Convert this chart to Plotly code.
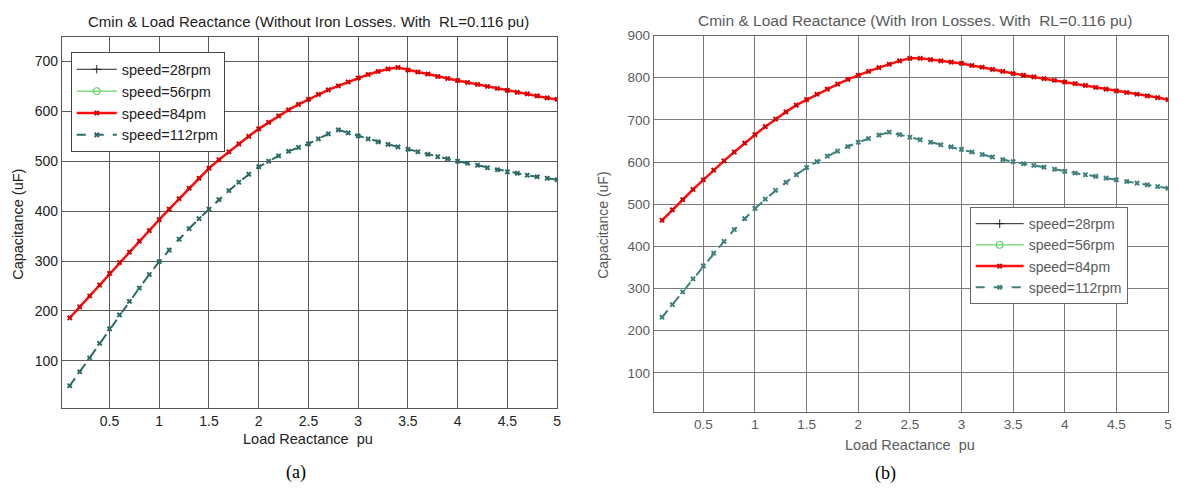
import plotly.graph_objects as go

x_vals = [round(0.1 * i, 1) for i in range(1, 51)]

# (a) Without iron losses
a_84 = [186, 208, 230, 252, 275, 297, 318, 340, 361, 383,
        404, 425, 446, 466, 486, 503, 519, 535, 550, 565,
        578, 591, 603, 614, 624, 634, 643, 651, 659, 667,
        674, 680, 685, 688, 683, 679, 675, 670, 666, 662,
        658, 654, 650, 646, 642, 638, 635, 631, 627, 624]
a_112 = [50, 78, 106, 135, 164, 192, 219, 246, 273, 299,
         322, 344, 365, 385, 404, 423, 441, 458, 474, 489,
         500, 511, 520, 528, 535, 545, 555, 563, 557, 551,
         545, 539, 534, 529, 524, 519, 514, 509, 505, 500,
         496, 492, 487, 483, 479, 476, 472, 469, 466, 463]

# (b) With iron losses
b_84 = [462, 487, 511, 535, 558, 581, 603, 624, 645, 665,
        684, 702, 719, 735, 748, 761, 773, 785, 796, 806,
        815, 824, 832, 840, 846, 846, 843, 840, 837, 834,
        829, 825, 820, 815, 810, 806, 802, 798, 794, 790,
        786, 782, 777, 773, 769, 765, 761, 757, 753, 748]
b_112 = [232, 262, 292, 323, 354, 384, 412, 440, 466, 490,
         512, 533, 552, 570, 587, 601, 614, 626, 637, 647,
         656, 664, 671, 665, 659, 653, 647, 641, 636, 630,
         624, 618, 612, 606, 601, 596, 592, 588, 583, 578,
         574, 570, 566, 562, 558, 554, 550, 546, 542, 538]

series_names = ["speed=28rpm", "speed=56rpm", "speed=84pm", "speed=112rpm"]
x_ticks = [0.5, 1, 1.5, 2, 2.5, 3, 3.5, 4, 4.5, 5]
x_tick_text = ["0.5", "1", "1.5", "2", "2.5", "3", "3.5", "4", "4.5", "5"]
ya_ticks = [100, 200, 300, 400, 500, 600, 700]
yb_ticks = [100, 200, 300, 400, 500, 600, 700, 800, 900]

title_a = "Cmin & Load Reactance (Without Iron Losses. With  RL=0.116 pu)"
title_b = "Cmin & Load Reactance (With Iron Losses. With  RL=0.116 pu)"

W, H = 1180, 490
FONT = "Liberation Sans, Arial, sans-serif"
TEAL = "#2c6b68"
TEAL_B = "#3f817e"
DARK = "#222222"
GREY = "#5a5a5a"

fig = go.Figure()


def add_panel(xa, ya, legend, red, teal, teal_col):
    fig.add_trace(go.Scatter(x=[None], y=[None], name=series_names[0], mode="lines+markers",
                             line=dict(color="#222222", width=1),
                             marker=dict(symbol="cross-thin-open", size=6, color="#222222",
                                         line=dict(width=1, color="#222222")),
                             xaxis=xa, yaxis=ya, legend=legend))
    fig.add_trace(go.Scatter(x=[None], y=[None], name=series_names[1], mode="lines+markers",
                             line=dict(color="#44cc44", width=1),
                             marker=dict(symbol="circle-open", size=7, color="#44cc44",
                                         line=dict(width=1, color="#44cc44")),
                             xaxis=xa, yaxis=ya, legend=legend))
    fig.add_trace(go.Scatter(x=x_vals, y=red, name=series_names[2], mode="lines+markers",
                             line=dict(color="#ff1010", width=2.5),
                             marker=dict(symbol="x", size=5, color="#d00000"),
                             xaxis=xa, yaxis=ya, legend=legend))
    fig.add_trace(go.Scatter(x=x_vals, y=teal, name=series_names[3], mode="lines+markers",
                             line=dict(color=teal_col, width=2, dash="dash"),
                             marker=dict(symbol="x", size=5, color=teal_col),
                             xaxis=xa, yaxis=ya, legend=legend))


add_panel("x", "y", "legend", a_84, a_112, TEAL)
add_panel("x2", "y2", "legend2", b_84, b_112, TEAL_B)


def px_x(p):
    return p / W


def px_y(p):
    return 1 - p / H


axis_common = dict(showline=True, mirror=True, linewidth=1, ticks="", zeroline=False,
                   showgrid=True, gridwidth=1)

fig.update_layout(
    width=W, height=H,
    margin=dict(l=0, r=0, t=0, b=0),
    paper_bgcolor="white", plot_bgcolor="white",
    font=dict(family=FONT, size=13, color=DARK),
    xaxis=dict(domain=[px_x(62), px_x(559)], range=[0.02, 5], tickvals=x_ticks, ticktext=x_tick_text,
               anchor="y", linecolor="#555555", gridcolor="#5a5a5a",
               tickfont=dict(size=14, color=DARK), **axis_common),
    yaxis=dict(domain=[px_y(407), px_y(30)], range=[5, 750], tickvals=ya_ticks,
               anchor="x", linecolor="#555555", gridcolor="#5a5a5a",
               tickfont=dict(size=14, color=DARK), **axis_common),
    xaxis2=dict(domain=[px_x(656), px_x(1172)], range=[0.02, 5], tickvals=x_ticks, ticktext=x_tick_text,
                anchor="y2", linecolor="#6a6a6a", gridcolor="#7a7a7a",
                tickfont=dict(size=13.5, color=GREY), **axis_common),
    yaxis2=dict(domain=[px_y(411), px_y(29)], range=[7, 900], tickvals=yb_ticks,
                anchor="x2", linecolor="#6a6a6a", gridcolor="#7a7a7a",
                tickfont=dict(size=13.5, color=GREY), **axis_common),
    legend=dict(x=px_x(71), y=px_y(46), xanchor="left", yanchor="top",
                bgcolor="white", bordercolor="#444444", borderwidth=1,
                font=dict(size=14.5, color=DARK, family=FONT),
                tracegroupgap=0, itemwidth=40),
    legend2=dict(x=px_x(973), y=px_y(203), xanchor="left", yanchor="top",
                 bgcolor="white", bordercolor="#666666", borderwidth=1,
                 font=dict(size=14, color=GREY, family=FONT),
                 tracegroupgap=0, itemwidth=48),
    showlegend=True,
)

annotations = [
    dict(text=title_a, x=px_x(310), y=px_y(15), font=dict(size=15, color=DARK)),
    dict(text=title_b, x=px_x(918), y=px_y(14), font=dict(size=15.5, color=GREY)),
    dict(text="Load Reactance  pu", x=px_x(309), y=px_y(438), font=dict(size=14.5, color=DARK)),
    dict(text="Load Reactance  pu", x=px_x(913), y=px_y(444), font=dict(size=14.5, color=GREY)),
    dict(text="Capacitance (uF)", x=px_x(18), y=px_y(220), textangle=-90, font=dict(size=14.5, color=DARK)),
    dict(text="Capacitance (uF)", x=px_x(605), y=px_y(221), textangle=-90, font=dict(size=14, color=GREY)),
    dict(text="(a)", x=px_x(297), y=px_y(472), font=dict(size=18, color="#000000", family="Liberation Serif, Times New Roman, serif")),
    dict(text="(b)", x=px_x(889), y=px_y(473), font=dict(size=18, color="#000000", family="Liberation Serif, Times New Roman, serif")),
]
for a in annotations:
    a.update(xref="paper", yref="paper", showarrow=False, xanchor="center", yanchor="middle")
    if "family" not in a["font"]:
        a["font"]["family"] = FONT
fig.update_layout(annotations=annotations)

fig.write_html("out.html")
